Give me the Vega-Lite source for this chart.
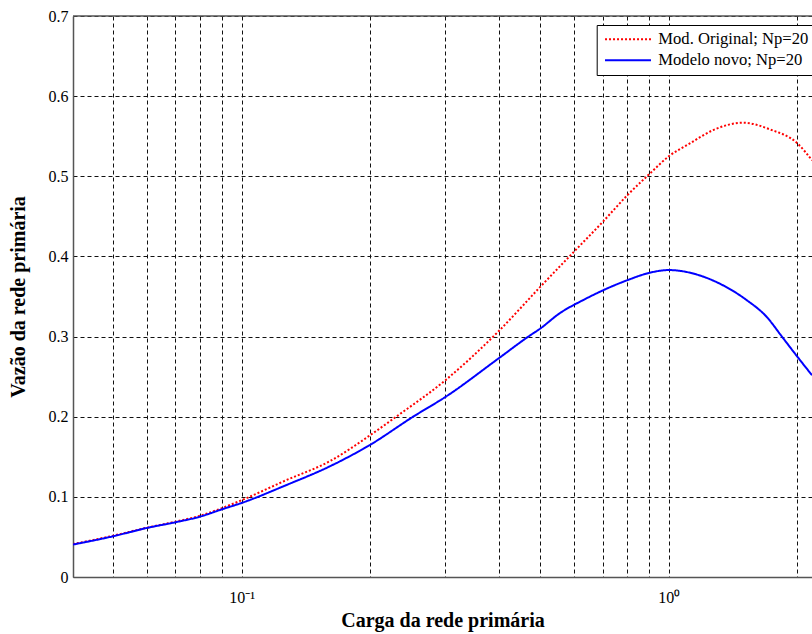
{
  "$schema": "https://vega.github.io/schema/vega-lite/v6.json",
  "width": 739,
  "height": 561,
  "autosize": {"type": "none"},
  "padding": {"left": 73, "top": 16, "right": 0, "bottom": 57},
  "config": {"view": {"stroke": null}, "font": "Liberation Serif"},
  "data": {
    "values": [
      {"serie": "Mod. Original; Np=20", "carga": 0.0403, "vazao": 0.041},
      {"serie": "Mod. Original; Np=20", "carga": 0.05, "vazao": 0.0515},
      {"serie": "Mod. Original; Np=20", "carga": 0.06, "vazao": 0.0615},
      {"serie": "Mod. Original; Np=20", "carga": 0.07, "vazao": 0.069},
      {"serie": "Mod. Original; Np=20", "carga": 0.08, "vazao": 0.0765},
      {"serie": "Mod. Original; Np=20", "carga": 0.09, "vazao": 0.086},
      {"serie": "Mod. Original; Np=20", "carga": 0.1, "vazao": 0.0958},
      {"serie": "Mod. Original; Np=20", "carga": 0.127, "vazao": 0.1207},
      {"serie": "Mod. Original; Np=20", "carga": 0.1607, "vazao": 0.1444},
      {"serie": "Mod. Original; Np=20", "carga": 0.2, "vazao": 0.177},
      {"serie": "Mod. Original; Np=20", "carga": 0.23, "vazao": 0.2},
      {"serie": "Mod. Original; Np=20", "carga": 0.3, "vazao": 0.2456},
      {"serie": "Mod. Original; Np=20", "carga": 0.4, "vazao": 0.307},
      {"serie": "Mod. Original; Np=20", "carga": 0.5, "vazao": 0.362},
      {"serie": "Mod. Original; Np=20", "carga": 0.6, "vazao": 0.406},
      {"serie": "Mod. Original; Np=20", "carga": 0.7, "vazao": 0.443},
      {"serie": "Mod. Original; Np=20", "carga": 0.8, "vazao": 0.4765},
      {"serie": "Mod. Original; Np=20", "carga": 0.9, "vazao": 0.5027},
      {"serie": "Mod. Original; Np=20", "carga": 1.0, "vazao": 0.525},
      {"serie": "Mod. Original; Np=20", "carga": 1.12, "vazao": 0.541},
      {"serie": "Mod. Original; Np=20", "carga": 1.27, "vazao": 0.5577},
      {"serie": "Mod. Original; Np=20", "carga": 1.493, "vazao": 0.5668},
      {"serie": "Mod. Original; Np=20", "carga": 1.724, "vazao": 0.5585},
      {"serie": "Mod. Original; Np=20", "carga": 2.0, "vazao": 0.541},
      {"serie": "Mod. Original; Np=20", "carga": 2.163, "vazao": 0.52},
      {"serie": "Modelo novo; Np=20", "carga": 0.0403, "vazao": 0.0405},
      {"serie": "Modelo novo; Np=20", "carga": 0.05, "vazao": 0.0508},
      {"serie": "Modelo novo; Np=20", "carga": 0.06, "vazao": 0.0612},
      {"serie": "Modelo novo; Np=20", "carga": 0.07, "vazao": 0.0683},
      {"serie": "Modelo novo; Np=20", "carga": 0.08, "vazao": 0.0754},
      {"serie": "Modelo novo; Np=20", "carga": 0.09, "vazao": 0.0845},
      {"serie": "Modelo novo; Np=20", "carga": 0.1, "vazao": 0.0924},
      {"serie": "Modelo novo; Np=20", "carga": 0.127, "vazao": 0.1145},
      {"serie": "Modelo novo; Np=20", "carga": 0.1607, "vazao": 0.138},
      {"serie": "Modelo novo; Np=20", "carga": 0.2, "vazao": 0.165},
      {"serie": "Modelo novo; Np=20", "carga": 0.252, "vazao": 0.2},
      {"serie": "Modelo novo; Np=20", "carga": 0.3, "vazao": 0.2247},
      {"serie": "Modelo novo; Np=20", "carga": 0.4, "vazao": 0.273},
      {"serie": "Modelo novo; Np=20", "carga": 0.469, "vazao": 0.3},
      {"serie": "Modelo novo; Np=20", "carga": 0.5, "vazao": 0.31},
      {"serie": "Modelo novo; Np=20", "carga": 0.555, "vazao": 0.329},
      {"serie": "Modelo novo; Np=20", "carga": 0.63, "vazao": 0.3455},
      {"serie": "Modelo novo; Np=20", "carga": 0.8, "vazao": 0.3704},
      {"serie": "Modelo novo; Np=20", "carga": 0.9, "vazao": 0.3795},
      {"serie": "Modelo novo; Np=20", "carga": 1.0, "vazao": 0.383},
      {"serie": "Modelo novo; Np=20", "carga": 1.161, "vazao": 0.3775},
      {"serie": "Modelo novo; Np=20", "carga": 1.316, "vazao": 0.366},
      {"serie": "Modelo novo; Np=20", "carga": 1.521, "vazao": 0.3455},
      {"serie": "Modelo novo; Np=20", "carga": 1.694, "vazao": 0.3246},
      {"serie": "Modelo novo; Np=20", "carga": 1.836, "vazao": 0.3005},
      {"serie": "Modelo novo; Np=20", "carga": 2.0, "vazao": 0.2747},
      {"serie": "Modelo novo; Np=20", "carga": 2.163, "vazao": 0.2518}
    ]
  },
  "layer": [
    {
      "mark": {"type": "line", "strokeWidth": 2, "interpolate": "monotone", "clip": true},
      "encoding": {
        "x": {
          "field": "carga",
          "type": "quantitative",
          "scale": {"type": "log", "domain": [0.0403, 2.163], "nice": false},
          "axis": {
            "values": [0.05, 0.06, 0.07, 0.08, 0.09, 0.1, 0.2, 0.3, 0.4, 0.5, 0.6, 0.7, 0.8, 0.9, 1, 2],
            "labelExpr": "datum.value == 0.1 ? '10⁻¹' : datum.value == 1 ? '10⁰' : ''",
            "labelOverlap": false,
            "labelFlush": false,
            "grid": true,
            "gridColor": "#111",
            "gridDash": [4, 3],
            "gridWidth": 1,
            "ticks": false,
            "domainColor": "#555",
            "domainWidth": 1.5,
            "labelFont": "Liberation Serif",
            "labelFontSize": 16,
            "labelColor": "#000",
            "labelPadding": 12,
            "title": "Carga da rede primária",
            "titleFont": "Liberation Serif",
            "titleFontSize": 20,
            "titleFontWeight": "bold",
            "titleColor": "#000",
            "titlePadding": 5
          }
        },
        "y": {
          "field": "vazao",
          "type": "quantitative",
          "scale": {"domain": [0, 0.7], "nice": false},
          "axis": {
            "values": [0, 0.1, 0.2, 0.3, 0.4, 0.5, 0.6, 0.7],
            "labelExpr": "datum.value == 0 ? '0' : format(datum.value, '.1f')",
            "grid": true,
            "gridColor": "#111",
            "gridDash": [4, 3],
            "gridWidth": 1,
            "ticks": false,
            "domainColor": "#555",
            "domainWidth": 1.5,
            "labelFont": "Liberation Serif",
            "labelFontSize": 16,
            "labelColor": "#000",
            "labelPadding": 5,
            "title": "Vazão da rede primária",
            "titleFont": "Liberation Serif",
            "titleFontSize": 20,
            "titleFontWeight": "bold",
            "titleColor": "#000",
            "titlePadding": 20
          }
        },
        "color": {
          "field": "serie",
          "type": "nominal",
          "scale": {"domain": ["Mod. Original; Np=20", "Modelo novo; Np=20"], "range": ["#ff0000", "#0000ff"]},
          "legend": {
            "title": null,
            "orient": "none",
            "legendX": 523.7,
            "legendY": 9,
            "symbolType": "M-3.83,0H3.83",
            "symbolSize": 144,
            "symbolStrokeWidth": 2,
            "symbolOffset": 17,
            "labelOffset": 22,
            "labelFont": "Liberation Serif",
            "labelFontSize": 16.6,
            "labelColor": "#000",
            "fillColor": "#ffffff",
            "strokeColor": "#000000",
            "padding": 6,
            "rowPadding": 4
          }
        },
        "strokeDash": {
          "field": "serie",
          "type": "nominal",
          "scale": {"domain": ["Mod. Original; Np=20", "Modelo novo; Np=20"], "range": [[2, 2], [1, 0]]},
          "legend": {
            "title": null,
            "orient": "none",
            "legendX": 523.7,
            "legendY": 9,
            "symbolType": "M-3.83,0H3.83",
            "symbolSize": 144,
            "symbolStrokeWidth": 2,
            "symbolOffset": 17,
            "labelOffset": 22,
            "labelFont": "Liberation Serif",
            "labelFontSize": 16.6,
            "labelColor": "#000",
            "fillColor": "#ffffff",
            "strokeColor": "#000000",
            "padding": 6,
            "rowPadding": 4
          }
        }
      }
    },
    {
      "data": {"values": [{}]},
      "mark": {"type": "rule", "color": "#555", "strokeWidth": 1.5},
      "encoding": {"y": {"datum": 0.7}}
    }
  ]
}
